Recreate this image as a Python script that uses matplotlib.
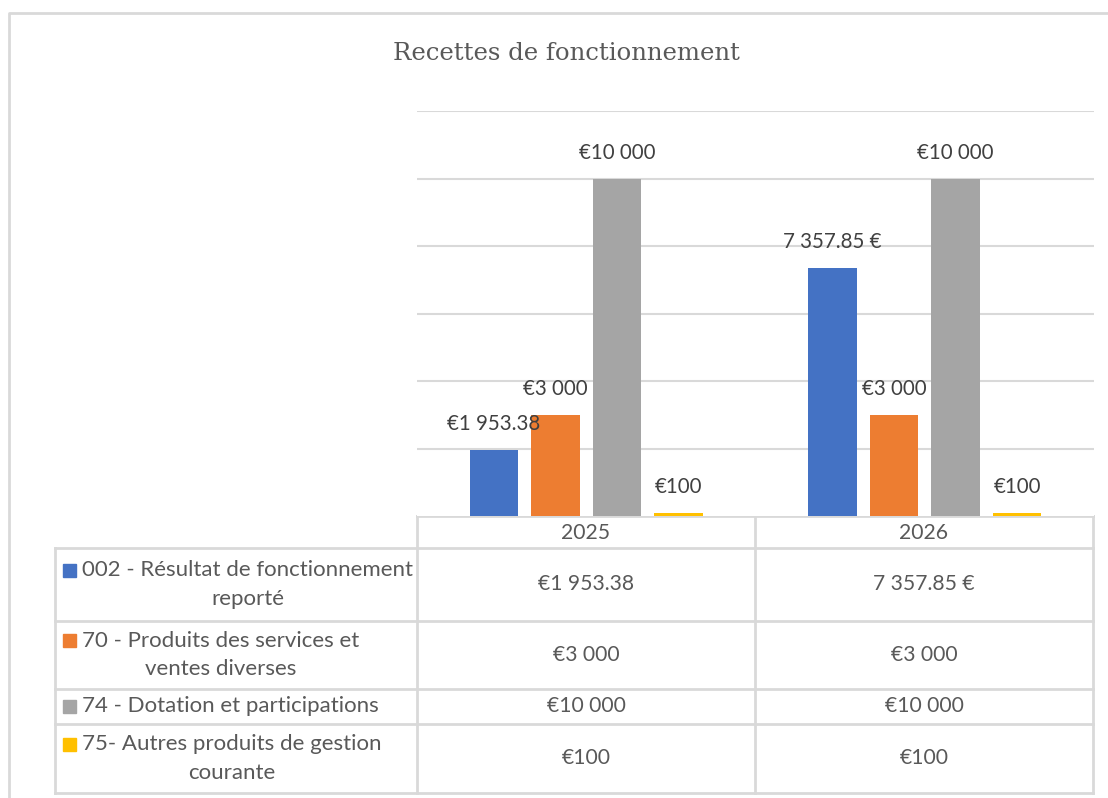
import matplotlib.pyplot as plt
import numpy as np

# Données
YEARS = ["2025", "2026"]
SERIES = [
    "002 - Résultat de fonctionnement\nreporté",
    "70 - Produits des services et\nventes diverses",
    "74 - Dotation et participations",
    "75- Autres produits de gestion\ncourante",
]
VALUES_2025 = [1953.38, 3000, 10000, 100]
VALUES_2026 = [7357.85, 3000, 10000, 100]
LABELS_2025 = ["€1 953.38", "€3 000", "€10 000", "€100"]
LABELS_2026 = ["7 357.85 €", "€3 000", "€10 000", "€100"]
COLORS = ["#4472C4", "#ED7D31", "#A5A5A5", "#FFC000"]
TITLE = "Recettes de fonctionnement"

# Styles
W, H = 1108, 798
DPI = 100
TEXT_COLOR = "#595959"
LABEL_COLOR = "#404040"
GRID_COLOR = "#D9D9D9"
FONT = "Lato"
LABEL_SIZE = 14.8
TABLE_SIZE = 15.2
LEGEND_SIZE = 16

fig = plt.figure(figsize=(W / DPI, H / DPI), dpi=DPI)

# zone du graphique (en pixels)
px_left, px_right, px_top, px_base = 417, 1094, 111, 516
ax = fig.add_axes([px_left / W, 1 - px_base / H,
                   (px_right - px_left) / W, (px_base - px_top) / H])
ax.set_xlim(-0.5, 1.5)
ax.set_ylim(0, 12000)
ax.set_yticks(np.arange(2000, 12001, 2000))
ax.yaxis.grid(True, color=GRID_COLOR, linewidth=1.5)
ax.set_axisbelow(True)
for s in ax.spines.values():
    s.set_visible(False)
ax.tick_params(left=False, bottom=False, labelleft=False, labelbottom=False)

bar_w = 0.142
step = 0.1817
x = np.arange(len(YEARS))
all_values = [VALUES_2025, VALUES_2026]
all_labels = [LABELS_2025, LABELS_2026]
for i, color in enumerate(COLORS):
    offs = (i - 1.5) * step
    vals = [all_values[j][i] for j in range(len(YEARS))]
    bars = ax.bar(x + offs, vals, width=bar_w, color=color, zorder=2)
    for j, b in enumerate(bars):
        ax.annotate(all_labels[j][i], (b.get_x() + b.get_width() / 2, b.get_height()),
                    xytext=(0, 18.5), textcoords="offset points",
                    ha="center", va="center", color=LABEL_COLOR,
                    fontsize=LABEL_SIZE, family=FONT, zorder=3)

# calque en pixels pour le titre, le cadre et le tableau
ov = fig.add_axes([0, 0, 1, 1], zorder=-1)
ov.set_xlim(0, W)
ov.set_ylim(H, 0)
ov.axis("off")

# cadre extérieur (ouvert à droite et en bas)
ov.plot([9, 9, W], [H, 13, 13], color=GRID_COLOR, lw=2)

fig.text(566 / W, 1 - 53 / H, TITLE, ha="center", va="center",
         fontsize=17.6, family="DejaVu Serif", color=TEXT_COLOR)

# tableau de données
row_y = [548, 621, 689, 724, 793]
col_x = [55, 417, 755, 1093]
lw = 2
ov.plot([417, 1093], [516, 516], color=GRID_COLOR, lw=lw)
for y in row_y:
    ov.plot([55, 1093], [y, y], color=GRID_COLOR, lw=lw)
ov.plot([55, 55], [548, 793], color=GRID_COLOR, lw=lw)
for cx in col_x[1:]:
    ov.plot([cx, cx], [516, 793], color=GRID_COLOR, lw=lw)

for j, year in enumerate(YEARS):
    xc = (col_x[j + 1] + col_x[j + 2]) / 2
    ov.text(xc, 533, year, ha="center", va="center", fontsize=TABLE_SIZE,
            family=FONT, color=TEXT_COLOR)

line_gap = 29
for i, name in enumerate(SERIES):
    y0, y1 = row_y[i], row_y[i + 1]
    yc = (y0 + y1) / 2
    ov.text(82, yc, name, ha="left", va="center", multialignment="center",
            fontsize=LEGEND_SIZE, family=FONT, color=TEXT_COLOR, linespacing=1.52)
    n_lines = name.count("\n") + 1
    ky = yc - (n_lines - 1) * line_gap / 2
    ov.add_patch(plt.Rectangle((63, ky - 6.5), 13, 13, color=COLORS[i]))
    for j in range(len(YEARS)):
        xc = (col_x[j + 1] + col_x[j + 2]) / 2
        ov.text(xc, yc, all_labels[j][i], ha="center", va="center",
                fontsize=TABLE_SIZE, family=FONT, color=TEXT_COLOR)

fig.savefig("out.png", dpi=DPI)
